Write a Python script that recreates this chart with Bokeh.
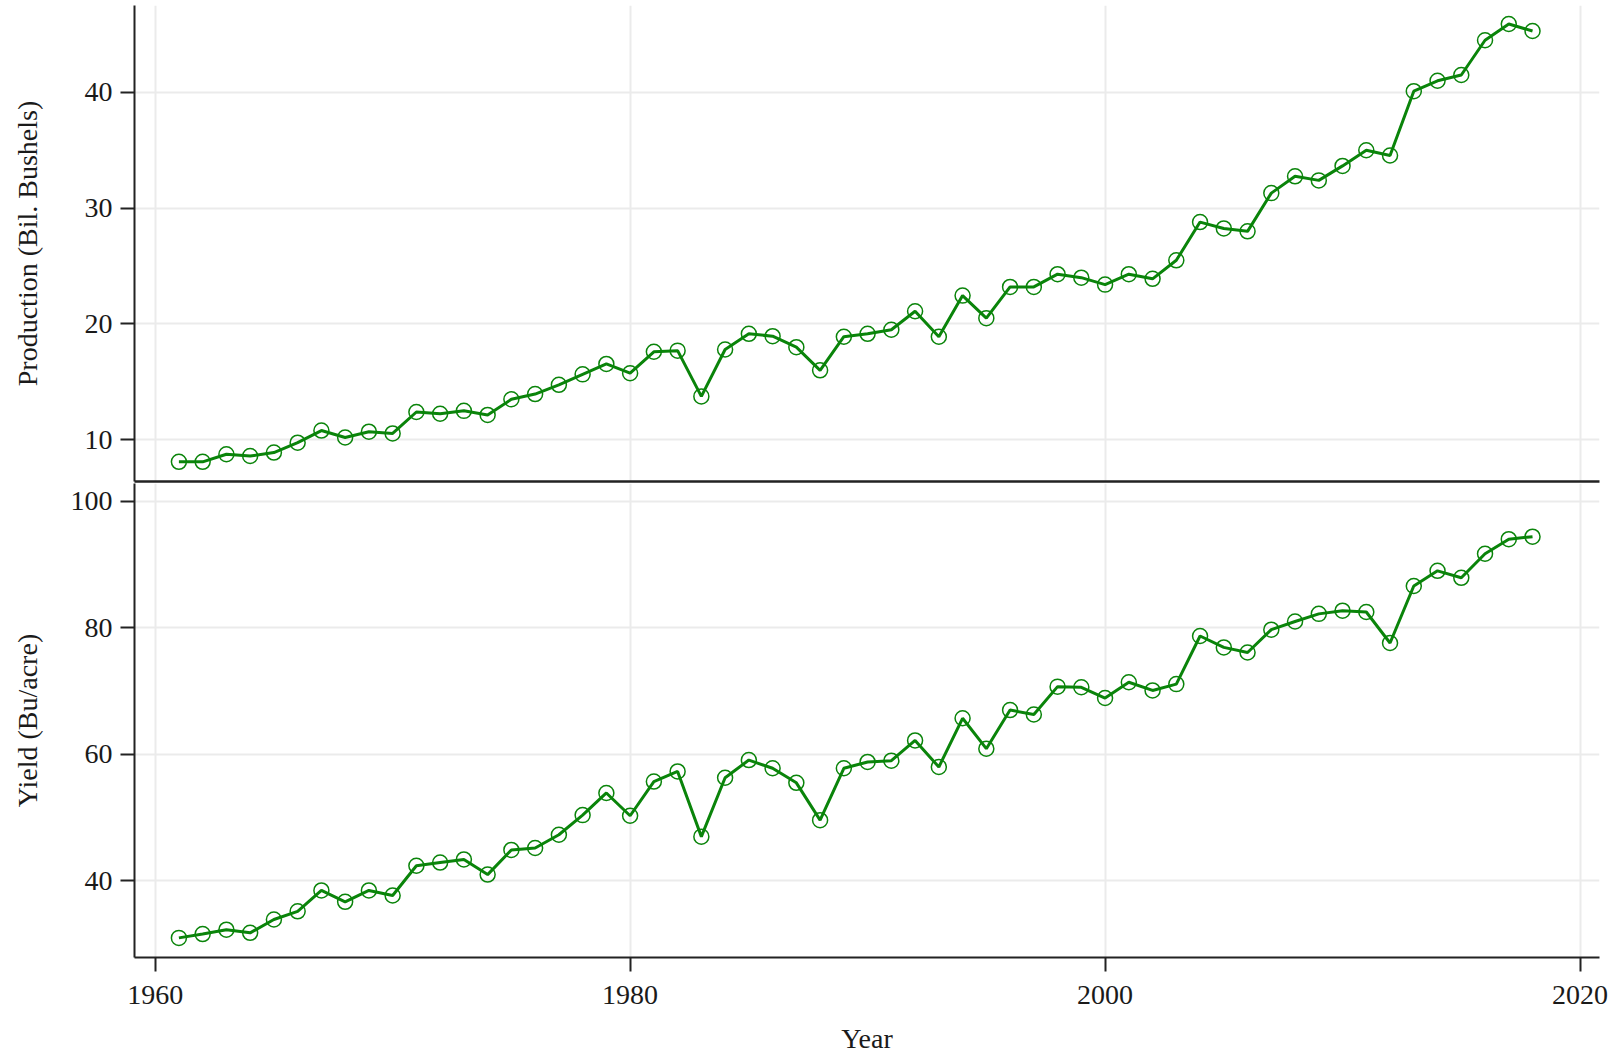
from bokeh.plotting import figure
from bokeh.layouts import column
from bokeh.models import ColumnDataSource, FixedTicker, Range1d
from bokeh.embed import file_html
from bokeh.resources import INLINE

years = list(range(1961, 2019))
production = [8.1, 8.1, 8.75, 8.6, 8.9, 9.75, 10.8, 10.2, 10.7, 10.55,
              12.4, 12.25, 12.5, 12.15, 13.5, 13.95, 14.75, 15.65, 16.55, 15.75,
              17.6, 17.7, 13.75, 17.8, 19.15, 18.95, 18.0, 16.0, 18.9, 19.15,
              19.5, 21.1, 18.9, 22.45, 20.5, 23.2, 23.2, 24.3, 24.0, 23.4,
              24.3, 23.9, 25.5, 28.8, 28.25, 28.0, 31.3, 32.75, 32.4, 33.65,
              35.0, 34.55, 40.1, 41.0, 41.5, 44.5, 45.9, 45.3]
yield_ = [31.0, 31.6, 32.3, 31.8, 33.9, 35.2, 38.5, 36.7, 38.5, 37.7,
          42.4, 42.9, 43.4, 41.0, 44.9, 45.2, 47.3, 50.4, 53.9, 50.3,
          55.7, 57.3, 47.0, 56.3, 59.1, 57.8, 55.5, 49.6, 57.8, 58.8,
          59.0, 62.2, 58.0, 65.7, 60.9, 67.0, 66.3, 70.7, 70.6, 68.9,
          71.4, 70.1, 71.1, 78.7, 76.9, 76.1, 79.7, 81.0, 82.2, 82.7,
          82.5, 77.6, 86.6, 89.0, 87.9, 91.7, 94.0, 94.4]
x_ticks = [1960, 1980, 2000, 2020]
prod_ticks = [10, 20, 30, 40]
yield_ticks = [40, 60, 80, 100]

src = ColumnDataSource(dict(year=years, prod=production, yld=yield_))

FONT = "Liberation Serif"
GREEN = "#0a840a"
AXIS = "#222222"
GRID = "#ebebeb"
W = 1610
x_range = Range1d(1959.13, 2020.82)


def style(p, yticks):
    p.yaxis.ticker = FixedTicker(ticks=yticks)
    p.xaxis.ticker = FixedTicker(ticks=x_ticks)
    p.xgrid.ticker = FixedTicker(ticks=x_ticks)
    p.ygrid.ticker = FixedTicker(ticks=yticks)
    p.grid.grid_line_color = GRID
    p.grid.grid_line_width = 2
    for ax in p.yaxis + p.xaxis:
        ax.axis_line_color = AXIS
        ax.axis_line_width = 2
        ax.major_tick_line_color = AXIS
        ax.major_tick_line_width = 2
        ax.major_tick_out = 14
        ax.major_tick_in = 0
        ax.minor_tick_line_color = None
        ax.major_label_text_font = FONT
        ax.major_label_text_font_size = "28px"
        ax.major_label_text_color = "#1a1a1a"
        ax.axis_label_text_font = FONT
        ax.axis_label_text_font_size = "28px"
        ax.axis_label_text_font_style = "normal"
        ax.axis_label_text_color = "#1a1a1a"
    p.yaxis.major_label_orientation = "horizontal"
    p.yaxis.major_label_standoff = 8
    p.outline_line_color = None
    p.background_fill_color = "white"
    p.border_fill_color = "white"


top = figure(width=W, height=483, x_range=x_range, y_range=Range1d(6.4, 47.5),
             output_backend="svg", toolbar_location=None,
             min_border_left=134, min_border_right=11, min_border_top=5, min_border_bottom=2)
top.line("year", "prod", source=src, line_color=GREEN, line_width=3)
top.scatter("year", "prod", source=src, marker="circle", size=15,
            fill_color=None, line_color=GREEN, line_width=1.5)
style(top, prod_ticks)
top.xaxis.ticker = FixedTicker(ticks=[])
top.xaxis.major_tick_out = 0
top.xaxis.major_label_standoff = 0
top.xaxis.axis_line_width = 2.5
top.yaxis.axis_label = "Production (Bil. Bushels)"
top.yaxis.axis_label_standoff = 39

bot = figure(width=W, height=573, x_range=x_range, y_range=Range1d(27.9, 102.8),
             output_backend="svg", toolbar_location=None,
             min_border_left=134, min_border_right=11, min_border_top=0, min_border_bottom=0)
bot.line("year", "yld", source=src, line_color=GREEN, line_width=3)
bot.scatter("year", "yld", source=src, marker="circle", size=15,
            fill_color=None, line_color=GREEN, line_width=1.5)
style(bot, yield_ticks)
bot.yaxis.axis_label = "Yield (Bu/acre)"
bot.yaxis.axis_label_standoff = 25
bot.xaxis.axis_label = "Year"
bot.xaxis.major_label_standoff = 14
bot.xaxis.axis_label_standoff = 16

layout = column(top, bot, spacing=0)

open("out.html", "w").write(file_html(layout, INLINE))
